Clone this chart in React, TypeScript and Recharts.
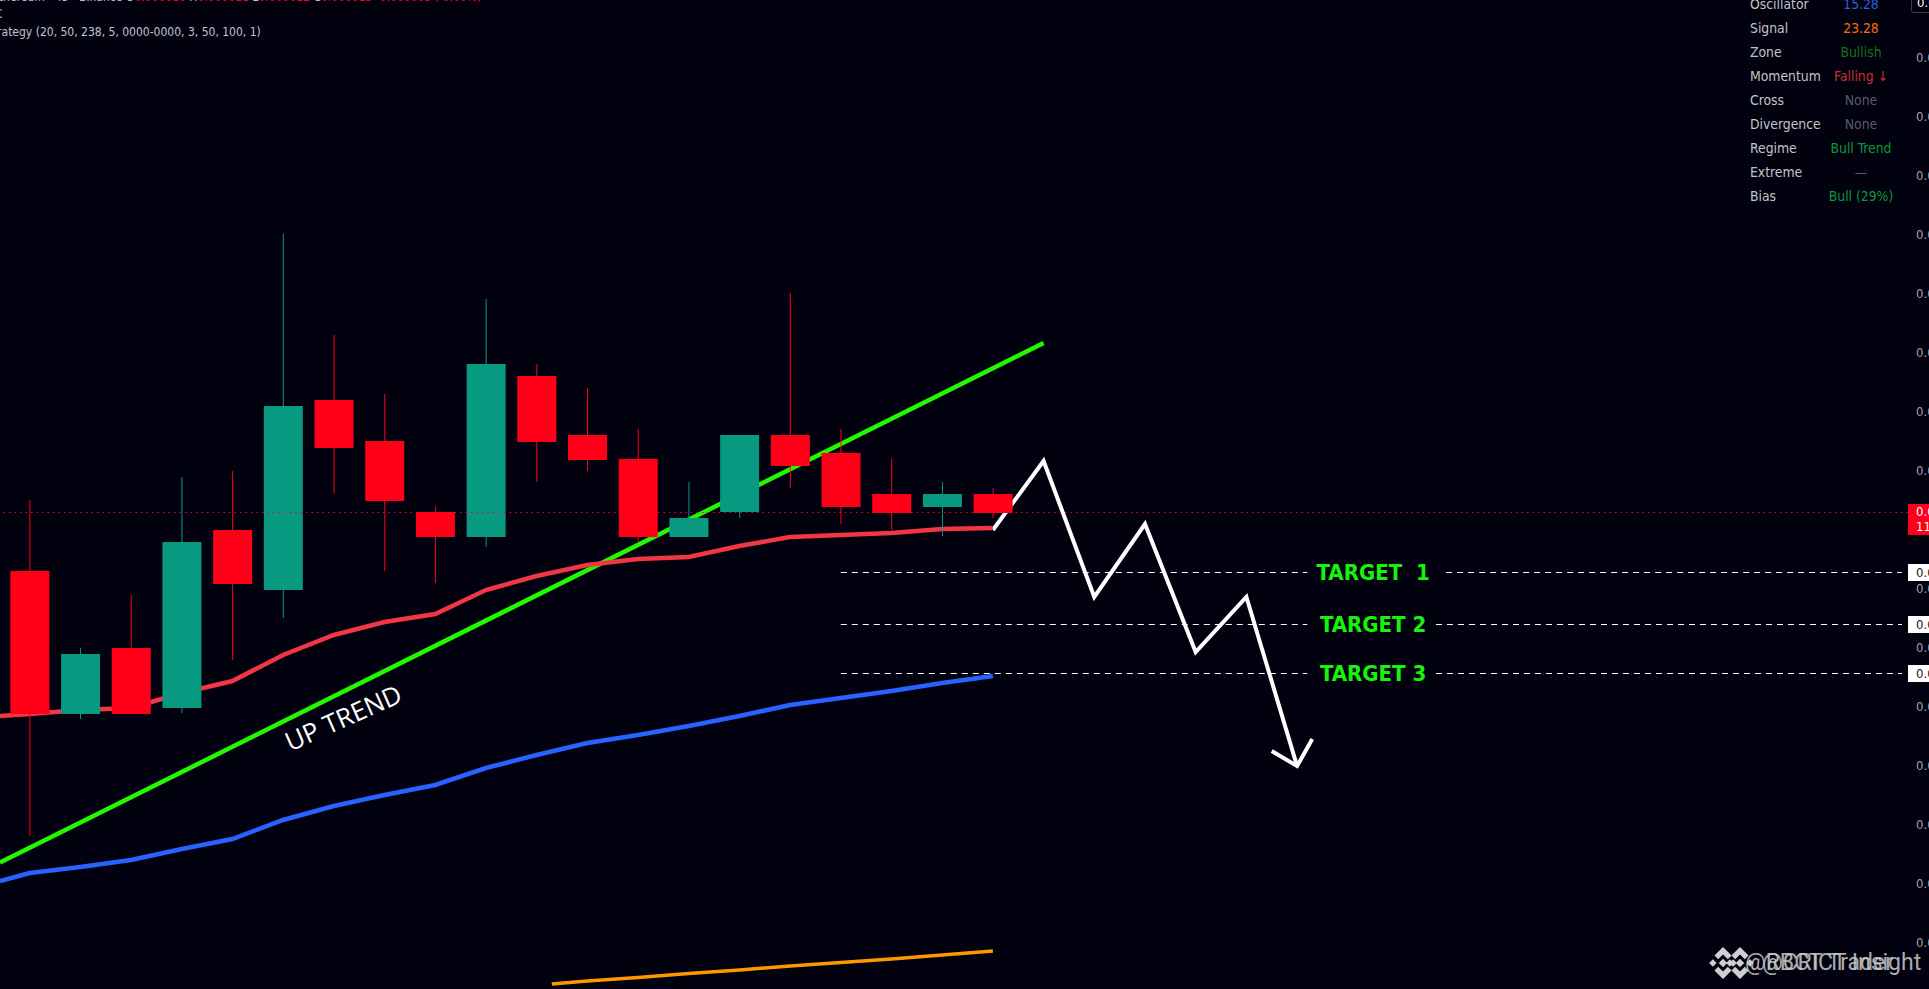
import { Bar, ComposedChart, Line, ReferenceDot, ReferenceLine, XAxis, YAxis } from 'recharts';

const WIDTH = 1929;
const HEIGHT = 989;
const BG = '#01010f';
const RED = '#ff0018';
const TEAL = '#089981';
const EMA_RED = '#f23645';
const EMA_BLUE = '#2962ff';
const EMA_ORANGE = '#ff9800';
const TREND_GREEN = '#22f800';
const TARGET_GREEN = '#14f50a';
const LABEL_GREY = '#c4c4c8';
const BODY_WIDTH = 39;
const UI_FONT = '"DejaVu Sans Condensed", "DejaVu Sans", sans-serif';

// price is read in chart points, the real labels are cut off at the right edge
const bars = [0, 1, 2, 3, 4, 5, 6, 7, 8, 9, 10, 11, 12, 13, 14, 15, 16, 17, 18, 19];
const opens = [418, 275, 341, 281, 459, 399, 589, 548, 477, 452, 613, 554, 530, 452, 477, 554, 536, 495, 482, 495];
const highs = [489, 341, 394, 512, 518, 755, 654, 595, 483, 690, 625, 601, 560, 507, 554, 696, 560, 530, 507, 501];
const lows = [153, 270, 275, 276, 329, 371, 495, 418, 406, 442, 507, 518, 447, 452, 471, 501, 465, 459, 453, 471];
const closes = [275, 335, 275, 447, 405, 583, 541, 488, 452, 625, 547, 529, 452, 471, 554, 523, 482, 476, 495, 476];

const emaRedX = [-0.584, ...bars];
const emaRed = [273, 275, 279, 281, 296, 308, 334, 354, 367, 375, 399, 413, 424, 430, 432, 443, 452, 454, 456, 460, 461];
const emaBlueX = [-0.584, ...bars];
const emaBlue = [108, 116, 122, 129, 140, 150, 169, 183, 194, 204, 221, 234, 246, 254, 263, 273, 284, 291, 298, 306, 313];
const emaOrangeX = [10.3, 11, 12, 13, 14, 15, 16, 17, 18, 19];
const emaOrange = [5, 8, 11.5, 15.5, 19, 23, 26.5, 30, 34, 38];

const trendX = [-0.584, 20];
const trendY = [126.5, 646];
const pathX = [19, 20, 21, 22, 23, 24, 25];
const pathY = [459, 528, 392, 465, 337, 392, 223];
const arrowX = [24.5, 25, 25.3];
const arrowY = [238, 223, 250];

const lastPrice = 476.5;
const targetNames = ['TARGET\u00a0\u00a01', 'TARGET 2', 'TARGET 3'];
const targetPrices = [416.5, 364.5, 315.5];
const targetGapEnd = [27.94, 27.74, 27.74];

const yTicks = [932, 873, 814, 755, 696, 637, 578, 519, 460, 401, 342, 283, 224, 165, 106, 47];

const panelNames = ['Oscillator', 'Signal', 'Zone', 'Momentum', 'Cross', 'Divergence', 'Regime', 'Extreme', 'Bias'];
const panelValues = ['15.28', '23.28', 'Bullish', 'Falling ↓', 'None', 'None', 'Bull Trend', '—', 'Bull (29%)'];
const panelColors = ['#2962d8', '#ff6d0a', '#1b6e22', '#c8302f', '#5c5c66', '#5c5c66', '#0c9a38', '#5c5c66', '#0c9a38'];

const candles = bars.map((i) => ({
  i,
  open: opens[i],
  high: highs[i],
  low: lows[i],
  close: closes[i],
}));

const toPoints = (xs: number[], ys: number[]) => xs.map((i, k) => ({ i, v: ys[k] }));

function Candle(props: any) {
  const { x, y, width, height, payload } = props;
  const { open, high, low, close } = payload;
  const color = close >= open ? TEAL : RED;
  const perPoint = height / (high - low);
  const bodyTop = y + (high - Math.max(open, close)) * perPoint;
  const bodyHeight = Math.abs(close - open) * perPoint;
  const middle = x + width / 2;
  return (
    <g>
      <rect x={middle - 0.5} y={y} width={1} height={height} fill={color} />
      <rect x={middle - BODY_WIDTH / 2} y={bodyTop} width={BODY_WIDTH} height={bodyHeight} fill={color} />
    </g>
  );
}

function TargetName({ cx, cy, name }: any) {
  return (
    <text
      x={cx}
      y={cy}
      dy={7}
      textAnchor="middle"
      fill={TARGET_GREEN}
      fontFamily={UI_FONT}
      fontWeight={700}
      fontSize={22}
      style={{ whiteSpace: 'pre' }}
    >
      {name}
    </text>
  );
}

function TrendName({ cx, cy }: any) {
  return (
    <text
      x={cx}
      y={cy}
      dy={8}
      textAnchor="middle"
      fill="#ffffff"
      fontFamily="'Open Sans', sans-serif"
      fontWeight={500}
      fontSize={26}
      transform={`rotate(-24 ${cx} ${cy})`}
    >
      UP TREND
    </text>
  );
}

function PriceBox({ y, text }: { y: number; text: string }) {
  return (
    <div
      style={{
        position: 'absolute',
        left: 1908,
        top: y,
        width: 21,
        height: 17,
        background: '#ffffff',
        color: '#131722',
        font: `13px/17px ${UI_FONT}`,
        paddingLeft: 8,
        boxSizing: 'border-box',
        overflow: 'hidden',
      }}
    >
      {text}
    </div>
  );
}

function BinanceMark({ left }: { left: number }) {
  return (
    <svg style={{ position: 'absolute', left, top: 947 }} width={36} height={32} viewBox="0 0 30 30">
      <path d="M15 0 L23 8 L19.5 11.5 L15 7 L10.5 11.5 L7 8 Z" fill="#cfcfcf" />
      <path d="M15 30 L23 22 L19.5 18.5 L15 23 L10.5 18.5 L7 22 Z" fill="#cfcfcf" />
      <path d="M2 15 L5.5 11.5 L9 15 L5.5 18.5 Z" fill="#cfcfcf" />
      <path d="M28 15 L24.5 11.5 L21 15 L24.5 18.5 Z" fill="#cfcfcf" />
      <path d="M15 11 L19 15 L15 19 L11 15 Z" fill="#cfcfcf" />
    </svg>
  );
}

export default function App() {
  return (
    <div
      style={{
        position: 'absolute',
        left: 0,
        top: 0,
        width: WIDTH,
        height: HEIGHT,
        background: BG,
        overflow: 'hidden',
      }}
    >
      <ComposedChart
        width={WIDTH}
        height={HEIGHT}
        data={candles}
        margin={{ top: 0, right: 0, bottom: 0, left: 0 }}
      >
        <XAxis dataKey="i" type="number" domain={[-0.584, 37.05]} hide allowDataOverflow />
        <YAxis
          orientation="right"
          width={21}
          domain={[0, HEIGHT]}
          ticks={yTicks}
          interval={0}
          axisLine={false}
          tickLine={false}
          tickSize={0}
          tickMargin={8}
          tickFormatter={() => '0.00'}
          tick={{ fill: '#a3a3a8', fontSize: 13, fontFamily: UI_FONT }}
          allowDataOverflow
        />
        <Line
          data={toPoints(trendX, trendY)}
          dataKey="v"
          type="linear"
          stroke={TREND_GREEN}
          strokeWidth={4.5}
          dot={false}
          isAnimationActive={false}
        />
        <Line
          data={toPoints(pathX, pathY)}
          dataKey="v"
          type="linear"
          stroke="#ffffff"
          strokeWidth={4}
          strokeLinejoin="miter"
          dot={false}
          isAnimationActive={false}
        />
        <Line
          data={toPoints(arrowX, arrowY)}
          dataKey="v"
          type="linear"
          stroke="#ffffff"
          strokeWidth={4}
          strokeLinejoin="miter"
          dot={false}
          isAnimationActive={false}
        />
        <Line
          data={toPoints(emaRedX, emaRed)}
          dataKey="v"
          type="linear"
          stroke={EMA_RED}
          strokeWidth={4.5}
          dot={false}
          isAnimationActive={false}
        />
        <Line
          data={toPoints(emaBlueX, emaBlue)}
          dataKey="v"
          type="linear"
          stroke={EMA_BLUE}
          strokeWidth={4.5}
          dot={false}
          isAnimationActive={false}
        />
        <Line
          data={toPoints(emaOrangeX, emaOrange)}
          dataKey="v"
          type="linear"
          stroke={EMA_ORANGE}
          strokeWidth={3.5}
          dot={false}
          isAnimationActive={false}
        />
        <Bar
          dataKey={(d: any) => [d.low, d.high]}
          barSize={BODY_WIDTH}
          shape={<Candle />}
          zIndex={500}
          isAnimationActive={false}
        />
        <ReferenceLine y={lastPrice} stroke={RED} strokeDasharray="1.5 4" zIndex={600} />
        {targetPrices.map((price, k) => (
          <ReferenceLine
            key={`a${k}`}
            segment={[{ x: 16, y: price }, { x: 25.2, y: price }]}
            stroke="#ffffff"
            strokeDasharray="6 5"
            zIndex={600}
          />
        ))}
        {targetPrices.map((price, k) => (
          <ReferenceLine
            key={`b${k}`}
            segment={[{ x: targetGapEnd[k], y: price }, { x: 36.93, y: price }]}
            stroke="#ffffff"
            strokeDasharray="6 5"
            zIndex={600}
          />
        ))}
        {targetPrices.map((price, k) => (
          <ReferenceDot
            key={`c${k}`}
            x={26.5}
            y={price}
            r={0}
            shape={(p: any) => <TargetName cx={p.cx} cy={p.cy} name={targetNames[k]} />}
          />
        ))}
        <ReferenceDot x={6.2} y={270} r={0} shape={(p: any) => <TrendName cx={p.cx} cy={p.cy} />} />
      </ComposedChart>

      {/* header lines, cut by the page edges just like the screenshot */}
      <div style={{ position: 'absolute', left: -8, top: -11, font: `12px/16px ${UI_FONT}`, color: LABEL_GREY, whiteSpace: 'pre' }}>
        Ethereum · 45 · Binance O<span style={{ color: RED }}>0.000010</span> H<span style={{ color: RED }}>0.000011</span> L<span style={{ color: RED }}>0.000012</span> C<span style={{ color: RED }}>0.000013</span> <span style={{ color: RED }}>-0.000003 (-0.00%)</span>
      </div>
      <div style={{ position: 'absolute', left: -12, top: 6, font: `12px/16px ${UI_FONT}`, color: LABEL_GREY }}>EC</div>
      <div style={{ position: 'absolute', left: -14, top: 24, font: `12px/16px ${UI_FONT}`, color: LABEL_GREY, whiteSpace: 'pre' }}>
        Strategy (20, 50, 238, 5, 0000-0000, 3, 50, 100, 1)
      </div>

      {/* info table, top right */}
      {panelNames.map((name, k) => (
        <div key={name}>
          <div style={{ position: 'absolute', left: 1750, top: 4 + k * 24 - 9, font: `13.8px/18px ${UI_FONT}`, color: LABEL_GREY }}>
            {name}
          </div>
          <div
            style={{
              position: 'absolute',
              left: 1811,
              width: 100,
              textAlign: 'center',
              top: 4 + k * 24 - 9,
              font: `13.8px/18px ${UI_FONT}`,
              color: panelColors[k],
            }}
          >
            {panelValues[k]}
          </div>
        </div>
      ))}

      {/* price scale tags */}
      <div
        style={{
          position: 'absolute',
          left: 1911,
          top: -8,
          width: 24,
          height: 21,
          border: '1px solid #3c3c44',
          borderRadius: 3,
          background: BG,
          color: '#ffffff',
          font: `13px/20px ${UI_FONT}`,
          paddingLeft: 5,
          boxSizing: 'border-box',
        }}
      >
        0.0
      </div>
      <div
        style={{
          position: 'absolute',
          left: 1908,
          top: 504,
          width: 21,
          height: 31,
          background: RED,
          color: '#ffffff',
          font: `13px/15px ${UI_FONT}`,
          paddingLeft: 8,
          boxSizing: 'border-box',
          overflow: 'hidden',
          whiteSpace: 'pre',
        }}
      >
        0.0{'\n'}11
      </div>
      <PriceBox y={564} text="0.0" />
      <PriceBox y={616} text="0.0" />
      <PriceBox y={665} text="0.0" />

      {/* watermark, two copies stacked on each other */}
      <BinanceMark left={1705} />
      <BinanceMark left={1722} />
      <div style={{ position: 'absolute', left: 1745, top: 949, font: '23px/28px Roboto, sans-serif', color: '#c9c9c9', opacity: 0.85, whiteSpace: 'pre' }}>
        @RBCT Trader
      </div>
      <div style={{ position: 'absolute', left: 1762, top: 949, font: '23px/28px Roboto, sans-serif', color: '#c9c9c9', opacity: 0.85, whiteSpace: 'pre' }}>
        @CRICT Insight
      </div>
    </div>
  );
}
